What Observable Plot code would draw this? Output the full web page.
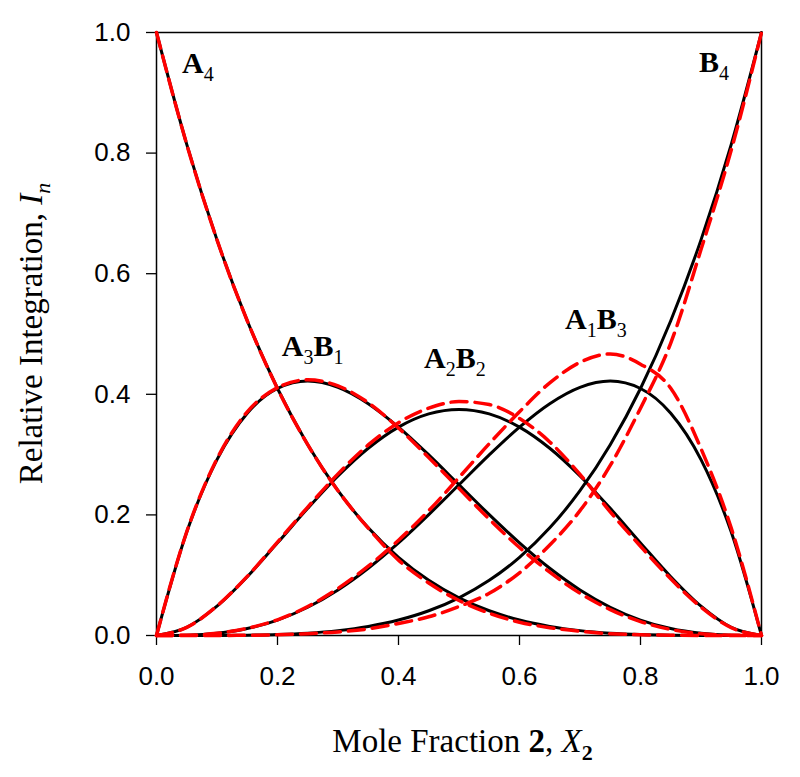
<!DOCTYPE html>
<html><head><meta charset="utf-8">
<script src="https://cdn.jsdelivr.net/npm/d3@7"></script>
<script src="https://cdn.jsdelivr.net/npm/@observablehq/plot@0.6"></script>
<style>body{margin:0;background:#fff} #chart svg{display:block}</style>
</head><body><div id="chart"></div>
<script>
// Mole fraction X2 sample points
const xs = [0, 0.05, 0.1, 0.15, 0.2, 0.25, 0.3, 0.35, 0.4, 0.45, 0.5, 0.55, 0.6, 0.65, 0.7, 0.75, 0.8, 0.85, 0.9, 0.95, 1];
// Black solid curves
const blackA4   = [1, 0.8145, 0.6561, 0.522, 0.4096, 0.3164, 0.2401, 0.1785, 0.1296, 0.0915, 0.0625, 0.041, 0.0256, 0.015, 0.0081, 0.0039, 0.0016, 0.0005, 0.0001, 0, 0];
const blackA3B1 = [0, 0.1715, 0.2916, 0.3685, 0.4096, 0.4219, 0.4116, 0.3845, 0.3456, 0.2995, 0.25, 0.2005, 0.1536, 0.1115, 0.0756, 0.0469, 0.0256, 0.0115, 0.0036, 0.0005, 0];
const blackA2B2 = [0, 0.0135, 0.0486, 0.0975, 0.1536, 0.2109, 0.2646, 0.3105, 0.3456, 0.3675, 0.375, 0.3675, 0.3456, 0.3105, 0.2646, 0.2109, 0.1536, 0.0975, 0.0486, 0.0135, 0];
const blackA1B3 = [0, 0.0005, 0.0036, 0.0115, 0.0256, 0.0469, 0.0756, 0.1115, 0.1536, 0.2005, 0.25, 0.2995, 0.3456, 0.3845, 0.4116, 0.4219, 0.4096, 0.3685, 0.2916, 0.1715, 0];
const blackB4   = [0, 0, 0.0001, 0.0005, 0.0016, 0.0039, 0.0081, 0.015, 0.0256, 0.041, 0.0625, 0.0915, 0.1296, 0.1785, 0.2401, 0.3164, 0.4096, 0.522, 0.6561, 0.8145, 1];
// Red dashed curves
const redA4   = [1, 0.8145, 0.6561, 0.522, 0.4096, 0.3164, 0.2401, 0.178, 0.125, 0.087, 0.058, 0.037, 0.022, 0.013, 0.007, 0.003, 0.0012, 0.0004, 0.0001, 0, 0];
const redA3B1 = [0, 0.172, 0.293, 0.371, 0.411, 0.424, 0.414, 0.386, 0.344, 0.295, 0.244, 0.193, 0.146, 0.105, 0.07, 0.043, 0.023, 0.01, 0.003, 0.0004, 0];
const redA2B2 = [0, 0.0135, 0.049, 0.098, 0.155, 0.213, 0.268, 0.316, 0.353, 0.377, 0.388, 0.383, 0.36, 0.321, 0.267, 0.205, 0.148, 0.094, 0.047, 0.013, 0];
const redA1B3 = [0, 0.0005, 0.0036, 0.012, 0.026, 0.048, 0.078, 0.115, 0.158, 0.207, 0.262, 0.318, 0.371, 0.419, 0.453, 0.467, 0.45, 0.41, 0.31, 0.178, 0];
const redB4   = [0, 0, 0.0001, 0.0004, 0.0012, 0.003, 0.006, 0.011, 0.02, 0.031, 0.048, 0.07, 0.104, 0.15, 0.207, 0.282, 0.377, 0.485, 0.64, 0.805, 1];

const seriesNames = ["A4", "A3B1", "A2B2", "A1B3", "B4"];
const blackSeries = [blackA4, blackA3B1, blackA2B2, blackA1B3, blackB4];
const redSeries = [redA4, redA3B1, redA2B2, redA1B3, redB4];

// Curve labels: name, x (text start), y (baseline)
const labelNames = ["A4", "A3B1", "A2B2", "A1B3", "B4"];
const labelX = [0.043, 0.208, 0.443, 0.676, 0.8975];
const labelY = [0.932, 0.462, 0.4435, 0.508, 0.934];

const xTicks = [0, 0.2, 0.4, 0.6, 0.8, 1.0];
const yTicks = [0, 0.2, 0.4, 0.6, 0.8, 1.0];

function rows(list) {
  const out = [];
  list.forEach((vals, s) => vals.forEach((v, i) => out.push({series: seriesNames[s], x: xs[i], y: v})));
  return out;
}
const blackRows = rows(blackSeries);
const redRows = rows(redSeries);

const plot = Plot.plot({
  width: 800, height: 777,
  marginLeft: 156, marginRight: 39, marginTop: 32, marginBottom: 142,
  style: {fontFamily: "'Liberation Sans', Arial, sans-serif", fontSize: "26px", background: "white", color: "black", overflow: "visible"},
  x: {domain: [0, 1]},
  y: {domain: [0, 1]},
  marks: [
    Plot.axisX({ticks: xTicks, tickSize: 10, tickPadding: 21, fontSize: 26, tickFormat: d => d.toFixed(1), label: null, strokeWidth: 1.3}),
    Plot.axisY({ticks: yTicks, tickSize: 10, tickPadding: 16, fontSize: 26, tickFormat: d => d.toFixed(1), label: null, strokeWidth: 1.3}),
    Plot.frame({stroke: "black", strokeWidth: 1.5}),
    Plot.line(blackRows, {x: "x", y: "y", z: "series", stroke: "black", strokeWidth: 3, curve: "monotone-x"}),
    Plot.line(redRows, {x: "x", y: "y", z: "series", stroke: "#ff0000", strokeWidth: 3.5, strokeDasharray: "16,8", curve: "monotone-x"})
  ]
});
document.getElementById("chart").appendChild(plot);

const svg = d3.select(plot);
const sx = plot.scale("x"), sy = plot.scale("y");
const serif = "'Liberation Serif', 'Times New Roman', serif";

// curve labels with subscripts
labelNames.forEach((name, i) => {
  const t = svg.append("text")
    .attr("x", sx.apply(labelX[i])).attr("y", sy.apply(labelY[i]))
    .attr("text-anchor", "start")
    .attr("font-family", serif).attr("font-size", 30).attr("fill", "black");
  const parts = name.match(/[A-Z]\d/g);
  parts.forEach((p, j) => {
    t.append("tspan").attr("font-weight", "bold").attr("font-size", 30).attr("dy", j === 0 ? 0 : -8).text(p[0]);
    t.append("tspan").attr("font-size", 20).attr("dy", 8).text(p[1]);
  });
});

// x axis title
const xt = svg.append("text")
  .attr("x", (sx.apply(0) + sx.apply(1)) / 2 + 4).attr("y", 752)
  .attr("text-anchor", "middle").attr("font-family", serif).attr("font-size", 33).attr("fill", "black");
xt.append("tspan").text("Mole Fraction ");
xt.append("tspan").attr("font-weight", "bold").text("2");
xt.append("tspan").text(", ");
xt.append("tspan").attr("font-style", "italic").text("X");
xt.append("tspan").attr("font-weight", "bold").attr("font-size", 22).attr("dy", 8).text("2");

// y axis title
const yt = svg.append("text")
  .attr("transform", `translate(42,${(sy.apply(0) + sy.apply(1)) / 2}) rotate(-90)`)
  .attr("text-anchor", "middle").attr("font-family", serif).attr("font-size", 33).attr("fill", "black");
yt.append("tspan").text("Relative Integration, ");
yt.append("tspan").attr("font-style", "italic").text("I");
yt.append("tspan").attr("font-style", "italic").attr("font-size", 22).attr("dy", 8).text("n");
</script>
</body></html>
